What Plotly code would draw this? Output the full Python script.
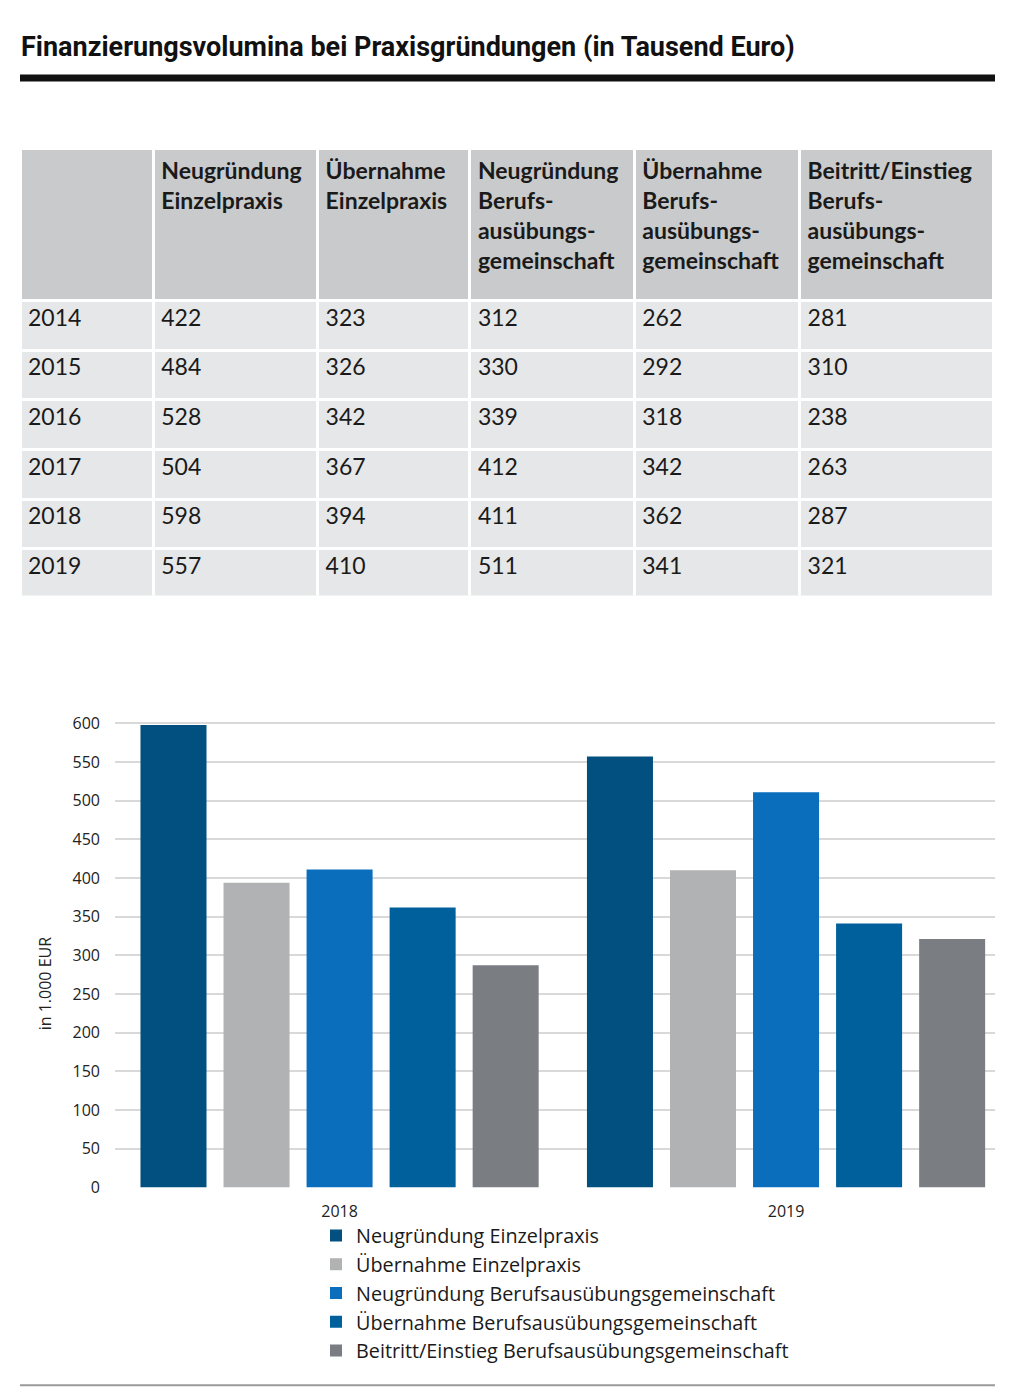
import plotly.graph_objects as go

W, H = 1024, 1396

title_text = "Finanzierungsvolumina bei Praxisgründungen (in Tausend Euro)"

table_years = ["2014", "2015", "2016", "2017", "2018", "2019"]
table_headers = [
    "",
    "Neugründung<br>Einzelpraxis",
    "Übernahme<br>Einzelpraxis",
    "Neugründung<br>Berufs-<br>ausübungs-<br>gemeinschaft",
    "Übernahme<br>Berufs-<br>ausübungs-<br>gemeinschaft",
    "Beitritt/Einstieg<br>Berufs-<br>ausübungs-<br>gemeinschaft",
]
neu_einzel = [422, 484, 528, 504, 598, 557]
ueb_einzel = [323, 326, 342, 367, 394, 410]
neu_bag = [312, 330, 339, 412, 411, 511]
ueb_bag = [262, 292, 318, 342, 362, 341]
beitritt_bag = [281, 310, 238, 263, 287, 321]

chart_years = ["2018", "2019"]
series_names = [
    "Neugründung Einzelpraxis",
    "Übernahme Einzelpraxis",
    "Neugründung Berufsausübungsgemeinschaft",
    "Übernahme Berufsausübungsgemeinschaft",
    "Beitritt/Einstieg Berufsausübungsgemeinschaft",
]
series_colors = ["#01507f", "#b1b2b4", "#0a6ebd", "#00609c", "#7a7e82"]
y_ticks = [0, 50, 100, 150, 200, 250, 300, 350, 400, 450, 500, 550, 600]

# vertical calibration of the rendered page
Y_OFF, Y_SCALE = 8.5, 0.9866


def px_x(x):
    return x / W


def px_y(y):
    return 1 - ((y - Y_OFF) / Y_SCALE) / H


fig = go.Figure()

# Table
table_cols = [table_years, neu_einzel, ueb_einzel, neu_bag, ueb_bag, beitritt_bag]
fig.add_trace(
    go.Table(
        domain=dict(x=[px_x(20), px_x(993)], y=[px_y(596), px_y(148)]),
        columnwidth=[133, 164, 152, 164, 165, 193],
        header=dict(
            values=["<b>%s</b>" % h for h in table_headers],
            fill_color="#c9cacc",
            line=dict(color="white", width=3),
            align="left",
            height=150 / Y_SCALE,
            font=dict(family="Lato", size=23, color="#1a1a1a"),
        ),
        cells=dict(
            values=table_cols,
            fill_color="#e6e7e8",
            line=dict(color="white", width=3),
            align="left",
            height=49 / Y_SCALE,
            font=dict(family="Lato", size=23, color="#1a1a1a"),
        ),
    )
)

# Bars: pick the 2018 and 2019 rows from the table data
all_series = [neu_einzel, ueb_einzel, neu_bag, ueb_bag, beitritt_bag]
idx = [table_years.index(y) for y in chart_years]
for name, color, vals in zip(series_names, series_colors, all_series):
    fig.add_trace(
        go.Bar(
            x=chart_years,
            y=[vals[i] for i in idx],
            name=name,
            marker=dict(color=color, line=dict(width=0)),
        )
    )

fig.update_layout(
    width=W,
    height=H,
    margin=dict(l=0, r=0, t=0, b=0),
    paper_bgcolor="white",
    plot_bgcolor="white",
    barmode="group",
    bargap=0.07,
    bargroupgap=0.205,
    showlegend=True,
    legend=dict(
        x=px_x(316),
        y=px_y(1216),
        xanchor="left",
        yanchor="top",
        font=dict(family="Open Sans", size=19.8, color="#1a1a1a"),
        traceorder="normal",
        itemwidth=30,
        tracegroupgap=0,
        bgcolor="rgba(0,0,0,0)",
    ),
    xaxis=dict(
        domain=[px_x(115), px_x(995)],
        type="category",
        range=[-0.503, 1.468],
        showgrid=False,
        showline=False,
        zeroline=False,
        ticks="",
        ticklabelstandoff=12,
        tickfont=dict(family="Open Sans", size=16, color="#222"),
    ),
    yaxis=dict(
        domain=[px_y(1187.8), px_y(720.7)],
        range=[-1, 603],
        tickvals=y_ticks,
        showgrid=True,
        gridcolor="#d9d9d9",
        gridwidth=1.5,
        zeroline=False,
        showline=False,
        ticks="",
        ticklabelstandoff=14,
        tickfont=dict(family="Open Sans", size=16, color="#222"),
    ),
    shapes=[
        dict(type="rect", xref="paper", yref="paper",
             x0=px_x(20), x1=px_x(995), y0=px_y(81), y1=px_y(74),
             fillcolor="#111111", line=dict(width=0)),
        dict(type="line", xref="paper", yref="paper",
             x0=px_x(20), x1=px_x(995), y0=px_y(1385), y1=px_y(1385),
             line=dict(color="#9a9a9a", width=2)),
    ],
    annotations=[
        dict(text="<b>" + title_text + "</b>", xref="paper", yref="paper",
             x=px_x(19), y=px_y(47), xanchor="left", yanchor="middle",
             showarrow=False,
             font=dict(family="Roboto, Liberation Sans, sans-serif", size=27, color="#111")),
        dict(text="in 1.000 EUR", xref="paper", yref="paper",
             x=px_x(45), y=px_y(983), xanchor="center", yanchor="middle",
             textangle=-90, showarrow=False,
             font=dict(family="Open Sans", size=16, color="#222")),
    ],
)

fig.write_html(
    "out.html",
    config={"displayModeBar": False},
    post_script="document.body.style.margin='0';document.body.style.overflow='hidden';",
)
